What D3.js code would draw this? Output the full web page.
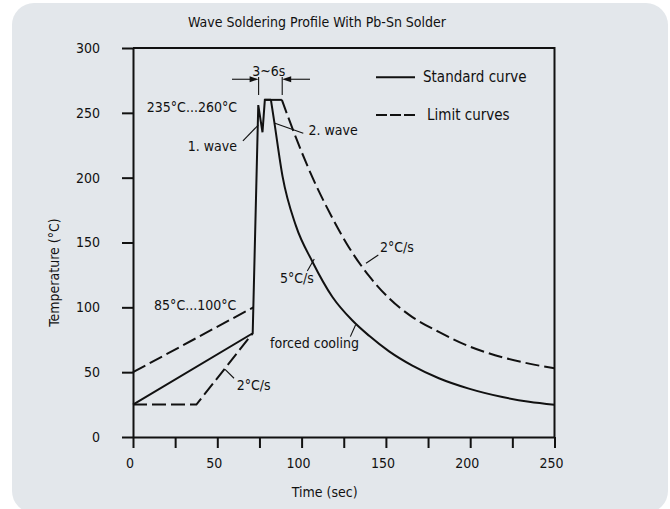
<!DOCTYPE html>
<html>
<head>
<meta charset="utf-8">
<script src="https://cdn.jsdelivr.net/npm/d3@7"></script>
<style>
  body { margin: 0; background: #fff; }
  svg text { font-family: "Liberation Sans Narrow", "DejaVu Sans Condensed", "Noto Sans", sans-serif; fill: #111; }
</style>
</head>
<body>
<div id="chart"></div>
<script>
// values (time in s, temperature in °C)
const xTicks = [0, 25, 50, 75, 100, 125, 150, 175, 200, 225, 250];
const yTicks = [0, 50, 100, 150, 200, 250, 300];

const stdHeatTime = [0, 71, 74.3, 76.8, 78.2, 81.8];
const stdHeatTemp = [25, 80, 256, 235, 260, 260];
const stdCoolTime = [81.8, 83.8, 88.7, 96.6, 106.5, 118.3, 130, 140.1, 151.9, 165.7, 181.4, 199.2, 219.1, 234.9, 250];
const stdCoolTemp = [260, 243, 201, 163, 135, 108, 90, 78, 66, 55, 45.3, 37.3, 30.8, 27.1, 24.8];

const lowHeatTime = [0, 37.6, 71];
const lowHeatTemp = [25, 25, 80];
const highHeatTime = [0, 71.4];
const highHeatTemp = [50, 100];
const limTopTime = [78.2, 88.3];
const limTopTemp = [260, 260];
const limCoolTime = [88.3, 96.6, 106.5, 117.4, 128.2, 140.1, 151.9, 165.7, 181.4, 199.2, 219.1, 234.9, 250];
const limCoolTemp = [260, 231, 200, 171, 146, 124, 107, 92.5, 81, 70, 61.5, 56.6, 53];

const zip = (a, b) => a.map((v, i) => [v, b[i]]);

const W = 670, H = 509;
const svg = d3.select("#chart").append("svg")
    .attr("width", W).attr("height", H);

// panel
svg.append("rect")
    .attr("x", 12).attr("y", 3)
    .attr("width", 656).attr("height", 510)
    .attr("rx", 22)
    .attr("fill", "#e3e7eb");

const x = d3.scaleLinear().domain([0, 250]).range([133, 554.5]);
const y = d3.scaleLinear().domain([0, 300]).range([437, 48]);

// frame (top and right)
svg.append("path")
    .attr("d", `M${x(0)},${y(300)}H${x(250)}V${y(0)}`)
    .attr("fill", "none").attr("stroke", "#111").attr("stroke-width", 2);

const xAxis = svg.append("g")
    .attr("transform", `translate(0,${y(0)})`)
    .call(d3.axisBottom(x).tickValues(xTicks)
        .tickFormat(d => d % 50 === 0 ? d : "")
        .tickSize(11).tickSizeOuter(0).tickPadding(10));
xAxis.selectAll("text").attr("dx", -3.5);

const yAxis = svg.append("g")
    .attr("transform", `translate(${x(0)},0)`)
    .call(d3.axisLeft(y).tickValues(yTicks)
        .tickSize(11).tickSizeOuter(0).tickPadding(22));

svg.selectAll(".domain, .tick line")
    .attr("stroke", "#111").attr("stroke-width", 2);
svg.selectAll(".tick text")
    .style("font-size", "14px").attr("fill", "#111");

// curves
const lin = d3.line().x(d => x(d[0])).y(d => y(d[1]));
const smooth = d3.line().x(d => x(d[0])).y(d => y(d[1])).curve(d3.curveMonotoneX);

function draw(gen, pts, dashed) {
    svg.append("path")
        .attr("d", gen(pts))
        .attr("fill", "none")
        .attr("stroke", "#111")
        .attr("stroke-width", 2)
        .attr("stroke-linejoin", "miter")
        .attr("stroke-dasharray", dashed ? "14,5" : null);
}
draw(lin, zip(lowHeatTime, lowHeatTemp), true);
draw(lin, zip(highHeatTime, highHeatTemp), true);
draw(lin, zip(limTopTime, limTopTemp), false);
draw(smooth, zip(limCoolTime, limCoolTemp), true);
draw(lin, zip(stdHeatTime, stdHeatTemp), false);
draw(smooth, zip(stdCoolTime, stdCoolTemp), false);

// annotations
const notes = [
    {t: "235°C...260°C", x: 61.7, y: 250.6, a: "end"},
    {t: "1. wave", x: 61.7, y: 220.6, a: "end"},
    {t: "2. wave", x: 104.1, y: 232.9, a: "start"},
    {t: "85°C...100°C", x: 12.5, y: 97.9, a: "start"},
    {t: "2°C/s", x: 61.5, y: 36.2, a: "start"},
    {t: "5°C/s", x: 87.2, y: 118.8, a: "start"},
    {t: "2°C/s", x: 146.5, y: 142.7, a: "start"},
    {t: "forced cooling", x: 81.3, y: 68.6, a: "start"},
    {t: "3~6s", x: 80.5, y: 278.4, a: "middle"}
];
svg.selectAll(".note").data(notes).enter().append("text")
    .attr("class", "note")
    .attr("x", d => x(d.x)).attr("y", d => y(d.y))
    .attr("text-anchor", d => d.a)
    .style("font-size", "14px")
    .text(d => d.t);

const pointers = [
    [[65.2, 228.3], [74.3, 240.6]],
    [[84.2, 241.9], [101, 234.2]],
    [[59.9, 45.3], [54.6, 52.2]],
    [[103.4, 128], [107.5, 137.3]],
    [[145.5, 140.4], [138.2, 134]],
    [[128.9, 77.4], [132, 86.4]],
    [[74.5, 277.6], [74.5, 263.7]],
    [[88.5, 277.6], [88.5, 263.7]]
];
svg.selectAll(".ptr").data(pointers).enter().append("path")
    .attr("class", "ptr")
    .attr("d", d => lin(d))
    .attr("stroke", "#111").attr("stroke-width", 1.1);

// 3~6s arrows
const arrows = [
    {from: 58.7, to: 74.5},
    {from: 105, to: 88.5}
];
const ay = y(275.9);
arrows.forEach(a => {
    const x0 = x(a.from), x1 = x(a.to), s = Math.sign(x1 - x0);
    svg.append("line")
        .attr("x1", x0).attr("x2", x1 - s * 8)
        .attr("y1", ay).attr("y2", ay)
        .attr("stroke", "#111").attr("stroke-width", 1.1);
    svg.append("path")
        .attr("d", `M${x1},${ay}L${x1 - s * 9},${ay - 3}L${x1 - s * 9},${ay + 3}Z`)
        .attr("fill", "#111");
});

// legend
const legend = [
    {t: "Standard curve", dash: null, ly: 77.3, tx: 423, ty: 81.5},
    {t: "Limit curves", dash: "11,3", ly: 115, tx: 427, ty: 119.5}
];
legend.forEach(l => {
    svg.append("line")
        .attr("x1", 376).attr("x2", 415)
        .attr("y1", l.ly).attr("y2", l.ly)
        .attr("stroke", "#111").attr("stroke-width", 2)
        .attr("stroke-dasharray", l.dash);
    svg.append("text")
        .attr("x", l.tx).attr("y", l.ty)
        .style("font-size", "15px")
        .text(l.t);
});

// titles
svg.append("text")
    .attr("x", 317).attr("y", 27)
    .attr("text-anchor", "middle")
    .style("font-size", "14px")
    .text("Wave Soldering Profile With Pb-Sn Solder");

svg.append("text")
    .attr("x", (x(0) + x(250)) / 2 - 19).attr("y", 497)
    .attr("text-anchor", "middle")
    .style("font-size", "14px")
    .text("Time (sec)");

svg.append("text")
    .attr("transform", `translate(59,${(y(0) + y(300)) / 2 + 30}) rotate(-90)`)
    .attr("text-anchor", "middle")
    .style("font-size", "14px")
    .text("Temperature (°C)");
</script>
</body>
</html>
